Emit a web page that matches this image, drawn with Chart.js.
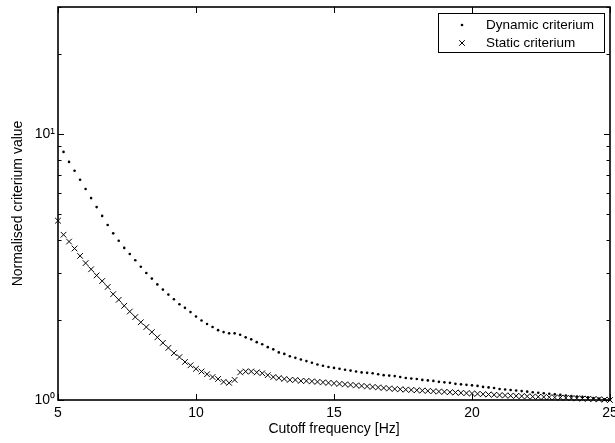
<!DOCTYPE html>
<html lang="en">
<head>
<meta charset="UTF-8">
<title>Normalised criterium value</title>
<script src="https://cdn.jsdelivr.net/npm/chart.js"></script>
<style>
  body { margin: 0; background: #fff; }
  #wrap { width: 615px; height: 443px; }
</style>
</head>
<body>
<div id="wrap"><canvas id="critChart" width="615" height="443"></canvas></div>
<script>
  // cutoff frequency [Hz], step 0.2
  const freq = [
    5.0, 5.2, 5.4, 5.6, 5.8, 6.0, 6.2, 6.4, 6.6, 6.8,
    7.0, 7.2, 7.4, 7.6, 7.8, 8.0, 8.2, 8.4, 8.6, 8.8,
    9.0, 9.2, 9.4, 9.6, 9.8, 10.0, 10.2, 10.4, 10.6, 10.8,
    11.0, 11.2, 11.4, 11.6, 11.8, 12.0, 12.2, 12.4, 12.6, 12.8,
    13.0, 13.2, 13.4, 13.6, 13.8, 14.0, 14.2, 14.4, 14.6, 14.8,
    15.0, 15.2, 15.4, 15.6, 15.8, 16.0, 16.2, 16.4, 16.6, 16.8,
    17.0, 17.2, 17.4, 17.6, 17.8, 18.0, 18.2, 18.4, 18.6, 18.8,
    19.0, 19.2, 19.4, 19.6, 19.8, 20.0, 20.2, 20.4, 20.6, 20.8,
    21.0, 21.2, 21.4, 21.6, 21.8, 22.0, 22.2, 22.4, 22.6, 22.8,
    23.0, 23.2, 23.4, 23.6, 23.8, 24.0, 24.2, 24.4, 24.6, 24.8,
    25.0
  ];

  // first dynamic value not visible in the plot
  const dynamicCrit = [
    null, 8.56, 7.85, 7.27, 6.73, 6.21, 5.74, 5.31, 4.92, 4.55,
    4.23, 3.97, 3.73, 3.54, 3.35, 3.17, 3.00, 2.86, 2.72, 2.60,
    2.49, 2.39, 2.29, 2.22, 2.14, 2.06, 1.99, 1.93, 1.88, 1.83,
    1.80, 1.78, 1.78, 1.76, 1.72, 1.69, 1.65, 1.62, 1.58, 1.55,
    1.51, 1.49, 1.46, 1.44, 1.42, 1.40, 1.38, 1.36, 1.345, 1.33,
    1.32, 1.31, 1.30, 1.29, 1.28, 1.27, 1.265, 1.26, 1.25, 1.24,
    1.235, 1.23, 1.22, 1.21, 1.205, 1.20, 1.19, 1.185, 1.18, 1.17,
    1.165, 1.16, 1.15, 1.145, 1.14, 1.135, 1.13, 1.12, 1.115, 1.11,
    1.10, 1.095, 1.09, 1.085, 1.08, 1.075, 1.07, 1.065, 1.06, 1.055,
    1.05, 1.045, 1.04, 1.035, 1.03, 1.027, 1.023, 1.018, 1.013, 1.007,
    1.00
  ];

  const staticCrit = [
    4.72, 4.18, 3.94, 3.71, 3.48, 3.27, 3.10, 2.94, 2.80, 2.66,
    2.50, 2.38, 2.26, 2.15, 2.05, 1.96, 1.88, 1.80, 1.72, 1.64,
    1.57, 1.50, 1.45, 1.39, 1.35, 1.31, 1.28, 1.25, 1.22, 1.20,
    1.17, 1.16, 1.19, 1.27, 1.28, 1.28, 1.27, 1.26, 1.24, 1.22,
    1.21, 1.20, 1.19, 1.19, 1.18, 1.18, 1.175, 1.17, 1.165, 1.16,
    1.155, 1.15, 1.145, 1.14, 1.135, 1.13, 1.125, 1.12, 1.115, 1.11,
    1.105, 1.10, 1.097, 1.094, 1.091, 1.088, 1.085, 1.082, 1.079, 1.076,
    1.073, 1.07, 1.067, 1.064, 1.061, 1.058, 1.055, 1.052, 1.049, 1.046,
    1.043, 1.04, 1.038, 1.036, 1.034, 1.032, 1.03, 1.028, 1.026, 1.024,
    1.022, 1.02, 1.018, 1.016, 1.014, 1.012, 1.01, 1.008, 1.006, 1.003,
    1.00
  ];

  const xTicks = [5, 10, 15, 20, 25];
  const yTicks = [1, 2, 3, 4, 5, 6, 7, 8, 9, 10, 20, 30];
  const yLabels = { 1: '10\u2070', 10: '10\u00B9' };
  const seriesNames = ['Dynamic criterium', 'Static criterium'];

  const FONT = 'Liberation Sans, Arial, sans-serif';

  // frame, inward ticks (matlab style) and boxed legend
  const framePlugin = {
    id: 'frame',
    afterDatasetsDraw(chart) {
      const { ctx, chartArea: a, scales: { x, y } } = chart;
      ctx.save();
      ctx.strokeStyle = '#000';
      ctx.lineWidth = 1;
      ctx.beginPath();
      yTicks.forEach(v => {
        const py = Math.round(y.getPixelForValue(v)) + 0.5;
        const len = (v === 1 || v === 10) ? 6 : 3.5;
        ctx.moveTo(a.left, py); ctx.lineTo(a.left + len, py);
        ctx.moveTo(a.right, py); ctx.lineTo(a.right - len, py);
      });
      xTicks.forEach(v => {
        const px = Math.round(x.getPixelForValue(v)) + 0.5;
        ctx.moveTo(px, a.bottom); ctx.lineTo(px, a.bottom - 6);
        ctx.moveTo(px, a.top); ctx.lineTo(px, a.top + 6);
      });
      ctx.stroke();
      ctx.lineWidth = 1.6;
      ctx.strokeRect(a.left, a.top, a.right - a.left, a.bottom - a.top);

      // legend
      const lx = 438.5, ly = 13.5, lw = 166, lh = 39;
      ctx.fillStyle = '#fff';
      ctx.fillRect(lx, ly, lw, lh);
      ctx.lineWidth = 1;
      ctx.strokeRect(lx, ly, lw, lh);
      ctx.fillStyle = '#000';
      ctx.font = '13.5px ' + FONT;
      ctx.textBaseline = 'middle';
      const rows = [ly + 11.5, ly + 29.5];
      const mx = 462;
      ctx.beginPath();
      ctx.arc(mx, rows[0], 1.3, 0, Math.PI * 2);
      ctx.fill();
      ctx.beginPath();
      ctx.moveTo(mx - 2.8, rows[1] - 2.8); ctx.lineTo(mx + 2.8, rows[1] + 2.8);
      ctx.moveTo(mx - 2.8, rows[1] + 2.8); ctx.lineTo(mx + 2.8, rows[1] - 2.8);
      ctx.stroke();
      ctx.fillText(seriesNames[0], 486, rows[0]);
      ctx.fillText(seriesNames[1], 486, rows[1]);
      ctx.restore();
    }
  };

  new Chart(document.getElementById('critChart'), {
    type: 'scatter',
    data: {
      datasets: [
        {
          label: seriesNames[0],
          data: freq.map((f, i) => ({ x: f, y: dynamicCrit[i] })),
          pointStyle: 'circle',
          pointRadius: 1.3,
          pointBorderWidth: 0,
          backgroundColor: '#000',
          borderColor: '#000',
          showLine: false,
          clip: false
        },
        {
          label: seriesNames[1],
          data: freq.map((f, i) => ({ x: f, y: staticCrit[i] })),
          pointStyle: 'crossRot',
          pointRadius: 4,
          pointBorderWidth: 1,
          backgroundColor: '#000',
          borderColor: '#000',
          showLine: false,
          clip: false
        }
      ]
    },
    options: {
      responsive: false,
      animation: false,
      layout: { padding: { top: 7, right: 2, left: 0, bottom: 0 } },
      plugins: {
        legend: { display: false },
        tooltip: { enabled: false }
      },
      scales: {
        x: {
          type: 'linear',
          min: 5,
          max: 25,
          afterBuildTicks: s => { s.ticks = xTicks.map(v => ({ value: v })); },
          afterFit: s => { s.height = 43; s.paddingLeft = 0; s.paddingRight = 0; },
          grid: { display: false, drawTicks: false },
          border: { display: false },
          ticks: {
            color: '#000',
            font: { family: FONT, size: 14 },
            padding: 5,
            maxRotation: 0,
            autoSkip: false
          },
          title: {
            display: true,
            text: 'Cutoff frequency [Hz]',
            color: '#000',
            font: { family: FONT, size: 14 },
            padding: { top: 0, bottom: 5 }
          }
        },
        y: {
          type: 'logarithmic',
          min: 1,
          max: 30,
          afterBuildTicks: s => { s.ticks = yTicks.map(v => ({ value: v })); },
          afterFit: s => { s.width = 58; s.paddingTop = 0; s.paddingBottom = 0; },
          grid: { display: false, drawTicks: false },
          border: { display: false },
          ticks: {
            color: '#000',
            font: { family: FONT, size: 14 },
            padding: 3,
            autoSkip: false,
            callback: v => yLabels[v] || ''
          },
          title: {
            display: true,
            text: 'Normalised criterium value',
            color: '#000',
            font: { family: FONT, size: 14 },
            padding: { top: 10, bottom: 0 }
          }
        }
      }
    },
    plugins: [framePlugin]
  });
</script>
</body>
</html>
